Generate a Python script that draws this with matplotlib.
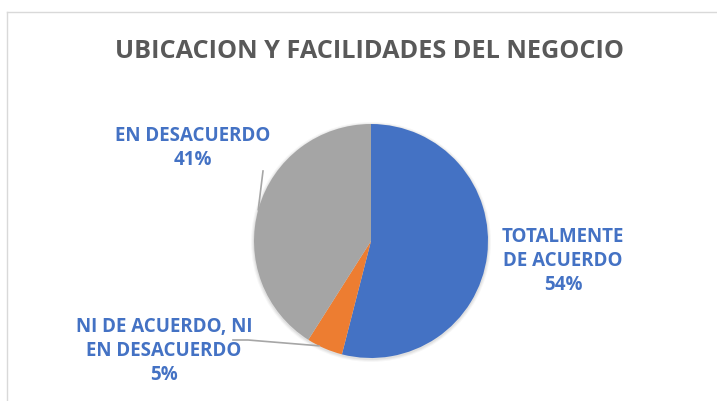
import numpy as np
import matplotlib
matplotlib.use("Agg")
import matplotlib.pyplot as plt

# --- Chart data ---
title = "UBICACION Y FACILIDADES DEL NEGOCIO"
categories = ["TOTALMENTE\nDE ACUERDO", "NI DE ACUERDO, NI\nEN DESACUERDO", "EN DESACUERDO"]
values = [54, 5, 41]
colors = ["#4472C4", "#ED7D31", "#A5A5A5"]

W, H = 717, 402
plt.rcParams["font.family"] = ["Open Sans", "DejaVu Sans"]

fig = plt.figure(figsize=(W / 100, H / 100), dpi=100)
ax = fig.add_axes([0, 0, 1, 1])

# pie geometry in pixel units (y up)
cx, cy, r = 371, H - 242, 117

# soft shadow behind the pie
for k, a in enumerate([0.05, 0.04, 0.03]):
    ax.add_patch(plt.Circle((cx, cy - 1), r + 1 + k, color="black",
                            alpha=a, lw=0, zorder=0))

wedges, _ = ax.pie(values, colors=colors, startangle=90, counterclock=False,
                   center=(cx, cy), radius=r,
                   wedgeprops=dict(linewidth=0))
ax.set_xlim(0, W)
ax.set_ylim(0, H)
ax.axis("off")

# --- Chart frame ---
ax.plot([7, W], [H - 13, H - 13], color="#D9D9D9", lw=1)
ax.plot([7, 7], [H - 13, 0], color="#D9D9D9", lw=1)

ax.text(370, H - 51, title, ha="center", va="center", fontsize=18.2,
        fontweight="bold", color="#595959")

# --- Labels ---
label_pos = [(563, H - 261), (164, H - 351), (193, H - 148)]
total = sum(values)
for i, (w, cat, v) in enumerate(zip(wedges, categories, values)):
    tx, ty = label_pos[i]
    ax.text(tx, ty, f"{cat}\n{v / total:.0%}", ha="center", va="center",
            fontsize=13.5, fontweight="bold", color="#4472C4", linespacing=1.25)

# leader lines
def edge(theta_deg):
    t = np.deg2rad(theta_deg)
    return cx + r * np.cos(t), cy + r * np.sin(t)

ang_ni = 0.5 * (wedges[1].theta1 + wedges[1].theta2)
ex, ey = edge(ang_ni - 3)
ax.plot([233, 248, ex], [H - 341, H - 341, ey], color="#A6A6A6", lw=1.2)

ex, ey = edge(164.5)
ax.plot([263, ex], [H - 172, ey], color="#A6A6A6", lw=1.2)

fig.savefig("out.png", dpi=100)
